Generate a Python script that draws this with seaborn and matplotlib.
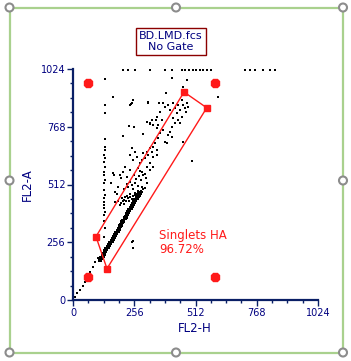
import numpy as np
import pandas as pd
import seaborn as sns
import matplotlib.pyplot as plt
from matplotlib.patches import Rectangle, Circle

# --- events (FL2-H, FL2-A) ---
core_h = [112, 118, 124, 130, 135, 140, 146, 151, 156, 161, 166, 171, 176, 181, 186,
          191, 196, 201, 206, 211, 216, 221, 226, 231, 236, 241, 246, 251, 256, 261,
          266, 271, 276, 281]
core_a = [176, 185, 196, 206, 216, 224, 236, 244, 254, 262, 272, 280, 290, 298, 308,
          316, 326, 334, 344, 352, 362, 370, 380, 388, 398, 406, 416, 424, 434, 442,
          452, 460, 468, 476]

blob_h = [200, 208, 215, 222, 230, 238, 245, 252, 260, 268, 275, 285, 292, 226, 240,
          212, 205, 250, 262, 280, 195, 218, 234, 258, 270, 290, 300, 186, 176]
blob_a = [430, 440, 445, 438, 450, 455, 447, 460, 465, 470, 478, 485, 490, 462, 468,
          425, 452, 440, 455, 462, 420, 455, 440, 475, 482, 478, 495, 440, 435]

cloud_h = [238, 251, 247, 314, 330, 322, 351, 364, 376, 385, 397, 405, 418, 426, 435,
           439, 447, 456, 460, 468, 477, 481, 472, 456, 439, 426, 414, 405, 397, 414,
           376, 364, 385, 460, 355, 343, 334, 351, 330, 322, 314, 309, 334, 351, 301,
           293, 288, 280, 268, 251, 259, 247, 238, 272, 288, 309, 322, 334, 293, 217,
           209, 196, 226, 238, 167, 355, 372, 418, 447, 393, 497, 460, 230, 245, 260,
           250, 270, 285, 275, 300, 310, 265, 240, 225, 290, 305, 320, 215, 255, 280,
           175, 190, 160, 200, 185, 170, 247, 251, 251]
cloud_a = [864, 887, 873, 873, 798, 785, 811, 833, 873, 856, 864, 842, 873, 851, 829,
           864, 842, 887, 864, 851, 873, 856, 833, 811, 798, 785, 767, 745, 731, 723,
           754, 740, 700, 700, 718, 696, 678, 665, 656, 674, 643, 656, 634, 643, 629,
           652, 621, 607, 634, 621, 656, 674, 643, 585, 567, 590, 607, 590, 554, 590,
           567, 554, 545, 576, 563, 776, 798, 807, 785, 696, 616, 944, 500, 510, 520,
           490, 505, 530, 548, 560, 520, 535, 525, 515, 500, 540, 575, 490, 555, 570,
           480, 500, 520, 540, 470, 555, 257, 230, 261]

column_h = [134, 134, 134, 133, 132, 132, 131, 132, 131, 132, 131, 131, 132, 131, 131,
            132, 131, 131, 131, 131, 132, 131, 131, 132, 130]
column_a = [980, 864, 829, 714, 678, 665, 643, 629, 612, 590, 567, 554, 532, 519, 488,
            465, 452, 434, 421, 408, 390, 377, 350, 320, 279]

top_h = [209, 230, 259, 322, 385, 414, 456, 470, 485, 500, 515, 530, 545, 560, 575,
         719, 740, 761, 794, 824, 845]
top_a = [1018] * 21

sparse_h = [167, 242, 251, 314, 360, 234, 255, 209, 293, 309, 322, 334, 347, 351,
            414, 389, 460, 606, 477, 8, 18, 29, 40, 50, 71, 82, 92, 105]
sparse_a = [900, 869, 887, 878, 873, 771, 767, 727, 736, 789, 780, 776, 798, 762,
            984, 918, 944, 900, 975, 13, 30, 44, 62, 80, 124, 146, 168, 186]

# --- gate and markers ---
gate_h = [96, 464, 559, 142, 96]
gate_a = [281, 922, 852, 139, 281]
corner_h = [61, 593, 61, 593]
corner_a = [960, 960, 103, 103]

navy = "#0a1f66"
text_blue = "#000080"
red = "#ff1a1a"

sns.set_style("white")
fig = plt.figure(figsize=(3.51, 3.61), dpi=100)
W, H = 351, 361
ax = fig.add_axes([73 / W, 1 - 300 / H, 245 / W, 231 / H])

rest = pd.DataFrame({
    "FL2-H": cloud_h + blob_h + column_h + top_h + sparse_h,
    "FL2-A": cloud_a + blob_a + column_a + top_a + sparse_a,
})
core = pd.DataFrame({"FL2-H": core_h, "FL2-A": core_a})

sns.scatterplot(data=rest, x="FL2-H", y="FL2-A", ax=ax, color="black",
                marker="s", s=0.8, linewidth=0)
sns.scatterplot(data=core, x="FL2-H", y="FL2-A", ax=ax, color="black",
                marker="s", s=6, linewidth=0)

ax.plot(gate_h, gate_a, color=red, lw=1)
ax.plot(gate_h[:-1], gate_a[:-1], ls="none", marker="s", ms=5, color=red)
ax.plot(corner_h, corner_a, ls="none", marker="8", ms=7, color=red)

ax.text(359, 288, "Singlets HA", color=red, fontsize=8.5, va="center", ha="left")
ax.text(359, 226, "96.72%", color=red, fontsize=8.5, va="center", ha="left")

ax.set_xlim(0, 1024)
ax.set_ylim(0, 1024)
ticks = [0, 256, 512, 768, 1024]
ax.set_xticks(ticks)
ax.set_yticks(ticks)
ax.set_xticks(np.arange(0, 1025, 64), minor=True)
ax.set_yticks(np.arange(0, 1025, 64), minor=True)
ax.tick_params(which="major", length=4, width=1, color=navy, labelcolor=text_blue,
               labelsize=7, pad=1.5, bottom=True, left=True)
ax.tick_params(which="minor", length=2, width=1, color=navy, bottom=True, left=True)

for side in ["top", "right"]:
    ax.spines[side].set_visible(False)
for side in ["left", "bottom"]:
    ax.spines[side].set_color(navy)
    ax.spines[side].set_linewidth(1.6)

ax.set_xlabel("FL2-H", color=text_blue, fontsize=8.5)
ax.set_ylabel("FL2-A", color=text_blue, fontsize=8.5)
ax.xaxis.set_label_coords(0.498, -0.094)
ax.yaxis.set_label_coords(-0.159, 0.5)
ax.patch.set_alpha(0)

# title box
fig.text(171 / W, 1 - 41.5 / H, "BD.LMD.fcs\nNo Gate", color=text_blue, fontsize=8,
         ha="center", va="center", linespacing=1.1,
         bbox=dict(boxstyle="square,pad=0.25", fc="white", ec="#8b0000", lw=1))

# selection frame with handles
ov = fig.add_axes([0, 0, 1, 1], zorder=-1)
ov.set_xlim(0, W)
ov.set_ylim(H, 0)
ov.axis("off")
ov.add_patch(Rectangle((9.5, 7.5), 333.5, 345, fill=False, ec="#a9d18e", lw=1.6))
top = fig.add_axes([0, 0, 1, 1], zorder=5)
top.set_xlim(0, W)
top.set_ylim(H, 0)
top.axis("off")
top.patch.set_alpha(0)
for hx in [9.5, 176, 343]:
    for hy in [7.5, 180.5, 352.5]:
        if hx == 176 and hy == 180.5:
            continue
        top.add_patch(Circle((hx, hy), 4, fc="white", ec="#8c8c8c", lw=1.5))

fig.savefig("out.png", dpi=100)
